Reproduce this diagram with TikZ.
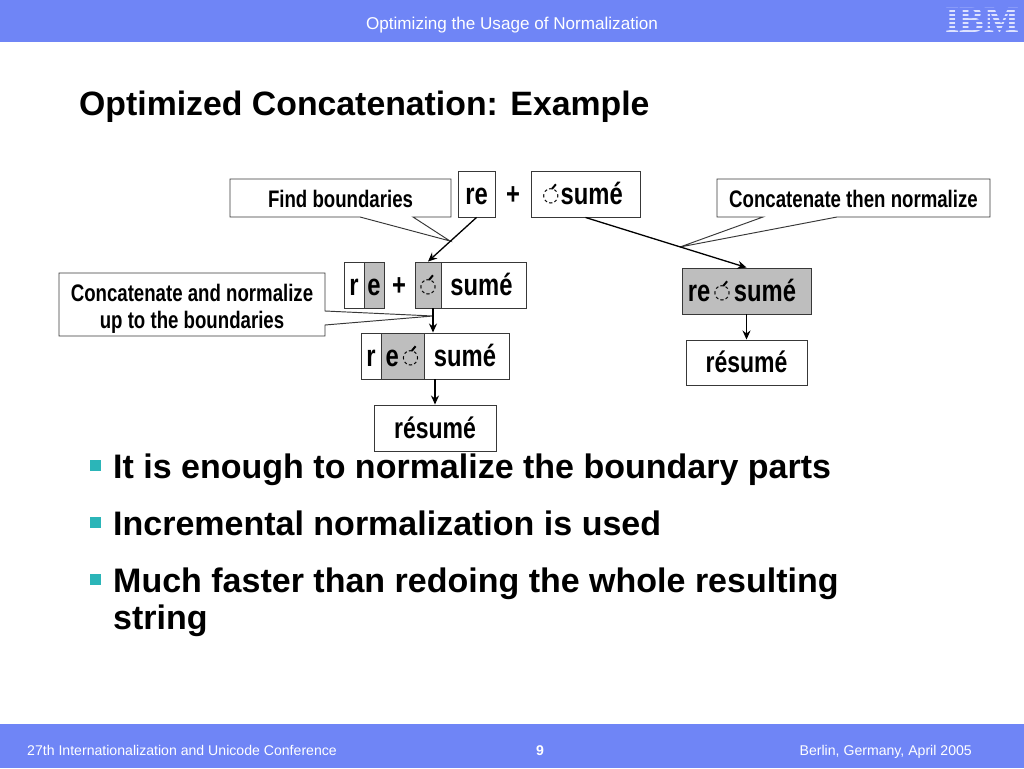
\documentclass[tikz,border=0pt]{standalone}
\usepackage{fontspec}
\usetikzlibrary{arrows.meta}
\setmainfont{Liberation Sans}
\newfontfamily\narrowfont[FakeStretch=0.78]{Liberation Sans}
\newfontfamily\markfont{DejaVu Sans}
\newfontfamily\logofont{Liberation Serif}
\definecolor{band}{HTML}{6F85F6}
\definecolor{logotext}{HTML}{DDE2FF}
\definecolor{cellgray}{HTML}{BEBEBE}
\definecolor{bullet}{HTML}{2BB5B8}
\definecolor{edge}{HTML}{383838}
\newcommand{\cmark}{\raisebox{2.5pt}{\markfont\fontsize{20}{20}\selectfont ◌\llap{\raisebox{12pt}{\rotatebox{50}{\rule{6pt}{2pt}}\kern3pt}}}}
\begin{document}
\begin{tikzpicture}[x=1pt, y=-1pt, >={Stealth[length=9pt,width=8pt]},
    cell/.style={draw=edge, fill=white, line width=.95pt, inner sep=0pt, text height=22pt, text depth=2pt, font=\narrowfont\bfseries\fontsize{30.5}{30.5}\selectfont},
    shaded/.style={cell, fill=cellgray},
    result/.style={cell, font=\narrowfont\bfseries\fontsize{29.5}{29.5}\selectfont},
    tail/.style={draw=edge, fill=white, line width=.95pt},
    note/.style={inner sep=0pt, align=center, font=\narrowfont\bfseries\fontsize{23.9}{27}\selectfont},
    bar/.style={anchor=base, inner sep=0pt, text=white, font=\fontsize{14.1}{14.1}\selectfont},
    point/.style={anchor=base west, inner sep=0pt, font=\bfseries\fontsize{34}{34}\selectfont},
    tick/.style={fill=bullet, minimum size=11pt, inner sep=0pt},
    link/.style={->, line width=1.3pt}]
\useasboundingbox (0,0) rectangle (1024,768);
\fill[band] (0,0) rectangle (1024,42);
\fill[band] (0,724) rectangle (1024,768);
\node[bar, font=\fontsize{17.1}{17.1}\selectfont] (head) at (512,30) {Optimizing the Usage of Normalization};
\node[inner sep=0pt, text=logotext, font=\logofont\bfseries\fontsize{37}{37}\selectfont] (logo) at (982,20) {IBM};
\foreach \y in {8.5,12.5,...,32.5}
    \fill[band] (940,\y) rectangle (1024,\y+1.6);
\node[bar, anchor=base west] (conf) at (27,755) {27th Internationalization and Unicode Conference};
\node[bar, font=\bfseries\fontsize{14.1}{14.1}\selectfont] (page) at (540,755) {9};
\node[bar, anchor=base east] (place) at (972,755) {Berlin, Germany, April 2005};
\node[anchor=base west, inner sep=0pt, font=\bfseries\fontsize{33.8}{33.8}\selectfont] (title) at (79,115) {Optimized Concatenation: Example};

% callouts
\draw[tail] (230,179)--(451,179)--(451,217)--(413,217)--(450,241)--(360,217)--(230,217)--cycle;
\node[note] (findnote) at (340.5,199) {Find boundaries};
\draw[tail] (717,179)--(990,179)--(990,217)--(837,217)--(680,247)--(763,217)--(717,217)--cycle;
\node[note] (thennote) at (853.5,199) {Concatenate then normalize};
\draw[tail] (59,273)--(325,273)--(325,311)--(433,316)--(325,325)--(325,336)--(59,336)--cycle;
\node[note] (uptonote) at (192,309) {Concatenate and normalize\\up to the boundaries};
\coordinate (uptotip) at (433,316);

% first line
\node[cell, minimum width=37pt, minimum height=46pt] (re) at (476.5,194) {re};
\node[cell, draw=none, fill=none] (plus) at (513,194) {+};
\node[cell, minimum width=109pt, minimum height=46pt] (sume) at (585.5,194) {\cmark\kern1pt sumé\kern6pt};

% split parts
\node[cell, minimum width=20pt, minimum height=46pt] (r1) at (354,285) {r};
\node[shaded, minimum width=20pt, minimum height=46pt] (e1) at (374,285) {e};
\node[cell, draw=none, fill=none] (plus1) at (399,285) {+};
\node[shaded, minimum width=26pt, minimum height=46pt] (m1) at (428,285) {\cmark};
\node[cell, minimum width=85pt, minimum height=46pt] (sume1) at (483.5,285) {sumé\kern4pt};

% normalized up to the boundaries
\node[cell, minimum width=20pt, minimum height=46pt] (r2) at (371,356) {r};
\node[shaded, minimum width=43pt, minimum height=46pt] (m2) at (402.5,356) {e\kern3pt\cmark};
\node[cell, minimum width=85pt, minimum height=46pt] (sume2) at (466.5,356) {sumé\kern3pt};
\node[result, minimum width=122pt, minimum height=46pt] (res2) at (435,428) {résumé};

% right side
\node[shaded, minimum width=129pt, minimum height=46pt] (whole) at (746.5,291) {re\kern3pt\cmark\kern3pt sumé\kern9pt};
\node[result, minimum width=121pt, minimum height=45pt] (res1) at (746.5,362.5) {résumé};

\draw[link] (re.south)--(m1.north);
\draw[link] (sume.south)--(whole.north);
\draw[link] (whole.south)--(res1.north);
\draw[link] (uptotip |- m1.south)--(uptotip |- sume2.north);
\draw[link] (res2.north |- sume2.south)--(res2.north);

\node[tick] (t1) at (95,465) {};
\node[tick] (t2) at (95,522) {};
\node[tick] (t3) at (95,579) {};
\node[point] (p1) at (113,478) {It is enough to normalize the boundary parts};
\node[point] (p2) at (113,535) {Incremental normalization is used};
\node[point] (p3) at (113,592) {Much faster than redoing the whole resulting};
\node[point] (p4) at (113,629) {string};
\end{tikzpicture}
\end{document}
